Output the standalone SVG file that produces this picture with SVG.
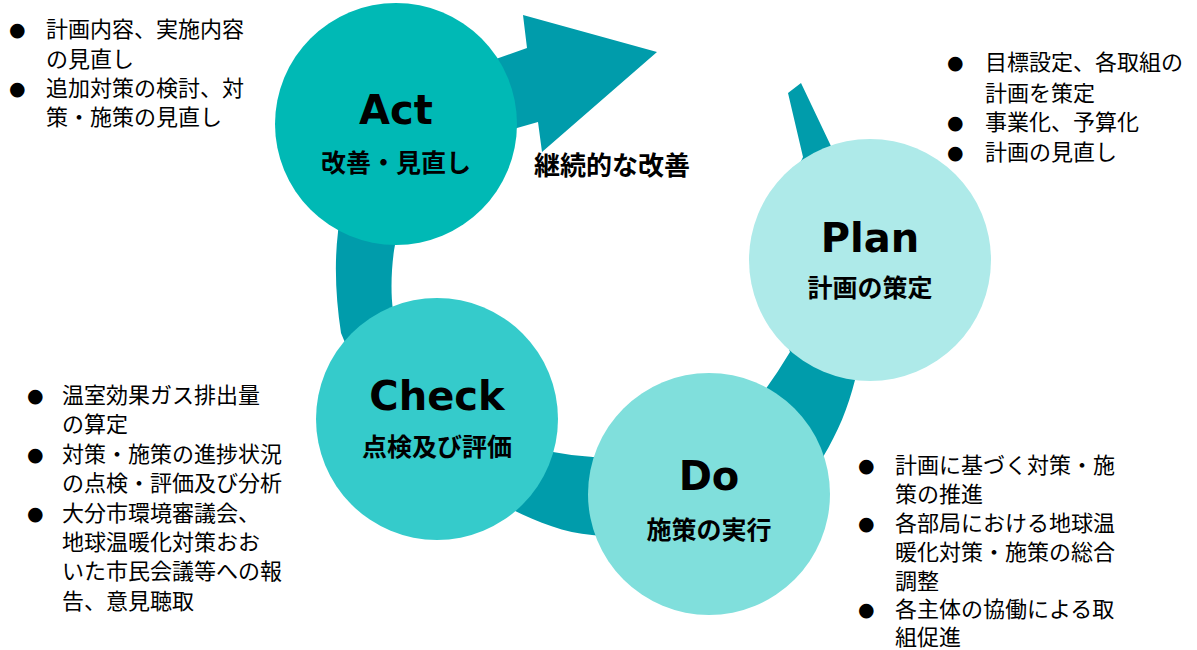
<svg xmlns="http://www.w3.org/2000/svg" width="1197" height="650" viewBox="0 0 1197 650">
<style>
.ring{fill:#009CAB;stroke:none}
.title{font-family:"DejaVu Sans","Noto Sans CJK JP",sans-serif;font-weight:bold;font-size:40px;fill:#000;text-anchor:middle}
.sub{font-family:"Noto Sans CJK JP",sans-serif;font-weight:bold;font-size:25px;fill:#000;text-anchor:middle}
.note{font-family:"Noto Sans CJK JP",sans-serif;font-size:22px;fill:#000}
.bul{font-family:"DejaVu Sans",sans-serif;font-size:19px;fill:#000}
</style>
<rect width="1197" height="650" fill="#fff"/>
<g id="connectors">
<path class="ring" d="M801,83 L830,144 C850,186 868,300 855,380 C848,408 838,432 823,457 C760,520 680,545 592,535 C565,533 538,522 513,510 C440,470 370,410 341,333 C336,300 334,265 338,232 C345,170 420,95 493,60 L527,48 L523,15 L657,52 L542,152 L538,122 L517,128 C470,150 410,190 395,245 C392,260 390,290 393,310 C405,380 480,440 553,452 Q573,456 593,457 C660,458 730,430 765,390 Q778,372 790,352 C770,300 775,210 803,157 L788,93 Z"/>
<text class="sub" x="612" y="175" style="font-size:26px">継続的な改善</text>
</g>
<g id="act">
<circle cx="396" cy="124" r="121" fill="#00B9B5"/>
<text class="title" x="396" y="124">Act</text>
<text class="sub" x="396" y="172">改善・見直し</text>
</g>
<g id="plan">
<circle cx="870" cy="260" r="121" fill="#AEEAE9"/>
<text class="title" x="870" y="252">Plan</text>
<text class="sub" x="870" y="297">計画の策定</text>
</g>
<g id="do">
<circle cx="709" cy="494" r="121" fill="#80DFDC"/>
<text class="title" x="709" y="490">Do</text>
<text class="sub" x="709" y="539">施策の実行</text>
</g>
<g id="check">
<circle cx="437" cy="419" r="121" fill="#35CBCB"/>
<text class="title" x="437" y="410">Check</text>
<text class="sub" x="437" y="456">点検及び評価</text>
</g>
<g id="act-notes">
<text class="bul" x="9" y="36">●</text>
<text class="note" x="46" y="37">計画内容、実施内容</text>
<text class="note" x="46" y="67">の見直し</text>
<text class="bul" x="9" y="95">●</text>
<text class="note" x="46" y="96">追加対策の検討、対</text>
<text class="note" x="46" y="125">策・施策の見直し</text>
</g>
<g id="plan-notes">
<text class="bul" x="947" y="69">●</text>
<text class="note" x="985" y="70">目標設定、各取組の</text>
<text class="note" x="985" y="101">計画を策定</text>
<text class="bul" x="947" y="129">●</text>
<text class="note" x="985" y="130">事業化、予算化</text>
<text class="bul" x="947" y="159">●</text>
<text class="note" x="985" y="160">計画の見直し</text>
</g>
<g id="check-notes">
<text class="bul" x="27" y="402">●</text>
<text class="note" x="62" y="403">温室効果ガス排出量</text>
<text class="note" x="62" y="432">の算定</text>
<text class="bul" x="27" y="461">●</text>
<text class="note" x="62" y="462">対策・施策の進捗状況</text>
<text class="note" x="62" y="491">の点検・評価及び分析</text>
<text class="bul" x="27" y="520">●</text>
<text class="note" x="62" y="521">大分市環境審議会、</text>
<text class="note" x="62" y="550">地球温暖化対策おお</text>
<text class="note" x="62" y="579">いた市民会議等への報</text>
<text class="note" x="62" y="609">告、意見聴取</text>
</g>
<g id="do-notes">
<text class="bul" x="858" y="472">●</text>
<text class="note" x="895" y="473">計画に基づく対策・施</text>
<text class="note" x="895" y="502">策の推進</text>
<text class="bul" x="858" y="530">●</text>
<text class="note" x="895" y="531">各部局における地球温</text>
<text class="note" x="895" y="560">暖化対策・施策の総合</text>
<text class="note" x="895" y="589">調整</text>
<text class="bul" x="858" y="616">●</text>
<text class="note" x="895" y="617">各主体の協働による取</text>
<text class="note" x="895" y="645">組促進</text>
</g>
</svg>
